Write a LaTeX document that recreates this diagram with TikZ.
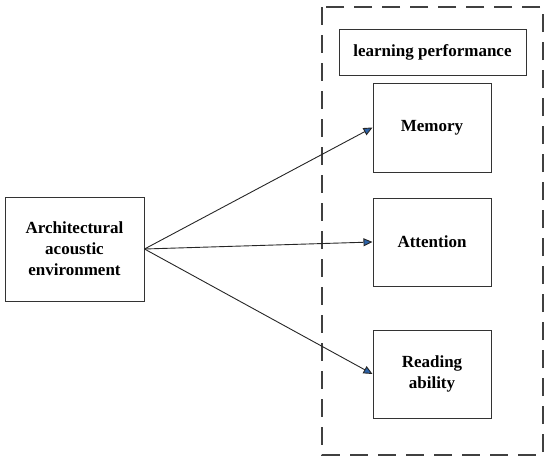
\documentclass[tikz,border=0pt]{standalone}
\usepackage{fontspec}
\setmainfont{Liberation Serif}
\usetikzlibrary{arrows.meta}
\definecolor{tipblue}{HTML}{2B62A8}
\begin{document}
\begin{tikzpicture}[x=1pt,y=-1pt,
  box/.style={draw=black!80,line width=1pt,inner sep=0pt,font=\bfseries\fontsize{17}{21}\selectfont,align=center},
  conn/.style={draw=black!85,line width=0.9pt,-{Triangle[length=9pt,width=8pt,fill=tipblue]}}]
\useasboundingbox (0,0) rectangle (550,463);
\draw[black!75,line width=1.1pt,dash pattern=on 18pt off 10pt] (322,7) rectangle (543,455);
\node[box,minimum width=187pt,minimum height=46pt] (lp) at (432.5,52) {learning performance};
\node[box,minimum width=118pt,minimum height=89pt] (mem) at (432,127.5) {Memory};
\node[box,minimum width=118pt,minimum height=88pt] (att) at (432,242) {Attention};
\node[box,minimum width=118pt,minimum height=88pt] (read) at (432,374) {Reading\\ability};
\node[box,minimum width=139pt,minimum height=104pt] (env) at (74.5,249) {Architectural\\acoustic\\environment};
\draw[conn] (env.east) -- (mem.west);
\draw[conn] (env.east) -- (att.west);
\draw[conn] (env.east) -- (read.west);
\end{tikzpicture}
\end{document}
